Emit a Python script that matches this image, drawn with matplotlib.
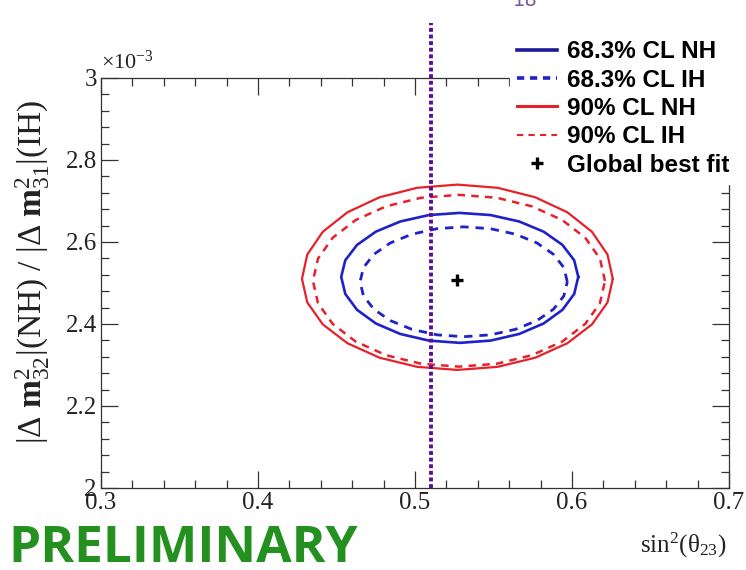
import matplotlib
matplotlib.use("Agg")
import matplotlib.pyplot as plt
from matplotlib.lines import Line2D
from matplotlib.ticker import MultipleLocator, FormatStrFormatter
import numpy as np

plt.rcParams["mathtext.fontset"] = "custom"
plt.rcParams["mathtext.rm"] = "Liberation Serif"
plt.rcParams["mathtext.it"] = "Liberation Serif:italic"
plt.rcParams["mathtext.bf"] = "Liberation Serif:bold"

# contours, y in units of 1e-3 eV^2
nh90_x = [0.626, 0.6226, 0.6127, 0.597, 0.5765, 0.5526, 0.527, 0.5014, 0.4775, 0.457,
          0.4413, 0.4314, 0.428, 0.4314, 0.4413, 0.457, 0.4775, 0.5014, 0.527, 0.5526,
          0.5765, 0.597, 0.6127, 0.6226]
nh90_y = [2.510, 2.5696, 2.625, 2.6726, 2.7092, 2.7322, 2.740, 2.7322, 2.7092, 2.6726,
          2.625, 2.5696, 2.510, 2.4525, 2.399, 2.353, 2.3177, 2.2955, 2.288, 2.2955,
          2.3177, 2.353, 2.399, 2.4525]

ih90_x = [0.621, 0.6178, 0.6085, 0.5938, 0.5745, 0.5521, 0.528, 0.5039, 0.4815, 0.4622,
          0.4475, 0.4382, 0.435, 0.4382, 0.4475, 0.4622, 0.4815, 0.5039, 0.528, 0.5521,
          0.5745, 0.5938, 0.6085, 0.6178]
ih90_y = [2.505, 2.5594, 2.610, 2.6535, 2.6869, 2.7079, 2.715, 2.7079, 2.6869, 2.6535,
          2.610, 2.5594, 2.505, 2.4509, 2.4005, 2.3572, 2.324, 2.3031, 2.296, 2.3031,
          2.324, 2.3572, 2.4005, 2.4509]

nh68_x = [0.604, 0.6014, 0.5939, 0.5819, 0.5663, 0.5481, 0.5285, 0.5089, 0.4907, 0.4751,
          0.4631, 0.4556, 0.453, 0.4556, 0.4631, 0.4751, 0.4907, 0.5089, 0.5285, 0.5481,
          0.5663, 0.5819, 0.5939, 0.6014]
nh68_y = [2.515, 2.5554, 2.593, 2.6253, 2.6501, 2.6657, 2.671, 2.6657, 2.6501, 2.6253,
          2.593, 2.5554, 2.515, 2.4733, 2.4345, 2.4012, 2.3756, 2.3595, 2.354, 2.3595,
          2.3756, 2.4012, 2.4345, 2.4733]

ih68_x = [0.597, 0.5948, 0.5882, 0.5777, 0.564, 0.5481, 0.531, 0.5139, 0.498, 0.4843,
          0.4738, 0.4672, 0.465, 0.4672, 0.4738, 0.4843, 0.498, 0.5139, 0.531, 0.5481,
          0.564, 0.5777, 0.5882, 0.5948]
ih68_y = [2.503, 2.5377, 2.570, 2.5977, 2.619, 2.6324, 2.637, 2.6324, 2.619, 2.5977,
          2.570, 2.5377, 2.503, 2.4683, 2.436, 2.4083, 2.387, 2.3736, 2.369, 2.3736,
          2.387, 2.4083, 2.436, 2.4683]

best_x = 0.527
best_y = 2.507
maximal_mixing = 0.51

blue = "#1f22c8"
red = "#e8202a"
purple = "#5b0f8f"


def closed(xs, ys):
    return np.append(xs, xs[0]), np.append(ys, ys[0])


fig = plt.figure(figsize=(7.46, 5.70), dpi=100)
ax = fig.add_axes([101 / 746, 82 / 570, 628 / 746, 410 / 570])

x, y = closed(nh90_x, nh90_y)
ax.plot(x, y, color=red, lw=1.6)
x, y = closed(ih90_x, ih90_y)
ax.plot(x, y, color=red, lw=1.8, dashes=(3, 2.5))
x, y = closed(nh68_x, nh68_y)
ax.plot(x, y, color=blue, lw=1.9)
x, y = closed(ih68_x, ih68_y)
ax.plot(x, y, color=blue, lw=2.0, dashes=(3, 2.5))
ax.plot([best_x], [best_y], marker="+", color="black", ms=9, mew=2.4, ls="none")

# maximal mixing line, runs above the frame
ax.plot([maximal_mixing, maximal_mixing], [2.0, 3.134], color=purple, lw=2.8,
        dashes=(1, 0.7), clip_on=False, zorder=4)

ax.set_xlim(0.3, 0.7)
ax.set_ylim(2.0, 3.0)
ax.xaxis.set_major_locator(MultipleLocator(0.1))
ax.xaxis.set_minor_locator(MultipleLocator(0.02))
ax.yaxis.set_major_locator(MultipleLocator(0.2))
ax.yaxis.set_minor_locator(MultipleLocator(0.04))
ax.xaxis.set_major_formatter(FormatStrFormatter("%g"))
ax.yaxis.set_major_formatter(FormatStrFormatter("%g"))
ax.tick_params(which="both", direction="in", top=True, right=True,
               labelsize=18, width=0.9, color="#333333")
ax.tick_params(which="major", length=12, pad=3)
ax.tick_params(which="minor", length=6)
for lab in ax.get_xticklabels() + ax.get_yticklabels():
    lab.set_fontfamily("Liberation Serif")
    lab.set_color("#222222")
for sp in ax.spines.values():
    sp.set_linewidth(0.9)
    sp.set_color("#333333")

fig.text(101 / 746, 1 - 62 / 570, r"$\times$10$^{-3}$", fontsize=16,
         family="Liberation Serif", ha="left", va="center", color="#222222")
fig.text(33 / 746, 1 - 272 / 570,
         r"$|\Delta\ \mathbf{m}^{2}_{32}|$(NH) / $|\Delta\ \mathbf{m}^{2}_{31}|$(IH)",
         rotation=90, fontsize=24, family="Liberation Serif",
         ha="center", va="center", color="#222222")
fig.text(727 / 746, 1 - 545 / 570, r"sin$^{2}$(θ$_{23}$)", fontsize=18,
         family="Liberation Serif", ha="right", va="center", color="#222222")
fig.text(8 / 746, 1 - 562 / 570, "PRELIMINARY", fontsize=37, fontweight="bold",
         family="Open Sans", color="#24901f", ha="left", va="baseline")
fig.text(525 / 746, 1.0, "18", fontsize=14, color="#7a5a9a", ha="center",
         va="center")

handles = [
    Line2D([], [], color="#1a1a9a", lw=2.6),
    Line2D([], [], color=blue, lw=2.6, dashes=(2, 1.6)),
    Line2D([], [], color=red, lw=2.2),
    Line2D([], [], color=red, lw=1.5, dashes=(3, 2.5)),
    Line2D([], [], color="black", marker="+", ms=8, mew=2.4, ls="none"),
]
labels = ["68.3% CL NH", "68.3% CL IH", "90% CL NH", "90% CL IH", "Global best fit"]
leg = ax.legend(handles, labels, loc="upper left",
                bbox_to_anchor=(510 / 746, 1 - 33 / 570),
                bbox_transform=fig.transFigure, frameon=True, fancybox=False,
                facecolor="white", edgecolor="white", framealpha=1.0,
                prop={"family": "Liberation Sans", "weight": "bold", "size": 17.5},
                handlelength=1.65, handletextpad=0.38, labelspacing=0.22,
                borderpad=0.3, borderaxespad=0)
leg.set_zorder(10)

fig.savefig("out.png", dpi=100)
